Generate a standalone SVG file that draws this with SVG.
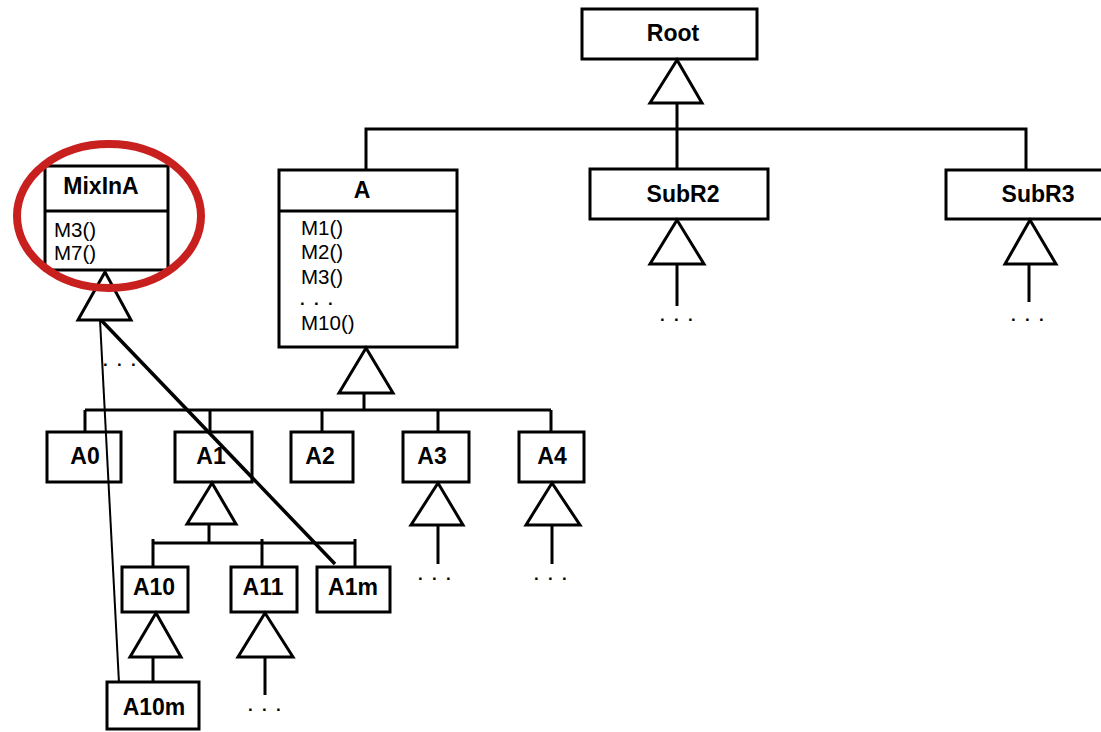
<svg xmlns="http://www.w3.org/2000/svg" width="1101" height="732" viewBox="0 0 1101 732">
<style>
.box{fill:#fff;stroke:#000;stroke-width:3}
.ln{fill:none;stroke:#000;stroke-width:3}
.tri{fill:#fff;stroke:#000;stroke-width:3;stroke-linejoin:miter}
.nm{font-family:"Liberation Sans",Arial,sans-serif;font-weight:bold;font-size:23px;text-anchor:middle;fill:#000}
.mt{font-family:"Liberation Sans",Arial,sans-serif;font-size:20.5px;fill:#000}
.dots{font-family:"Liberation Sans",Arial,sans-serif;font-weight:bold;font-size:17px;letter-spacing:9.3px;fill:#000}
</style>
<rect width="1101" height="732" fill="#fff"/>
<g id="Root"><rect class="box" x="582" y="9" width="175" height="50"/><text class="nm" x="673" y="41">Root</text></g>
<g id="A">
  <rect class="box" x="279" y="170" width="178" height="177"/>
  <line class="ln" x1="279" y1="211" x2="457" y2="211"/>
  <text class="nm" x="362" y="198">A</text>
  <text class="mt" x="301" y="235">M1()</text>
  <text class="mt" x="301" y="259">M2()</text>
  <text class="mt" x="301" y="284">M3()</text>
  <text class="dots" x="300" y="305">...</text>
  <text class="mt" x="301" y="330">M10()</text>
</g>
<g id="SubR2"><rect class="box" x="590" y="169" width="178" height="50"/><text class="nm" x="683" y="202">SubR2</text></g>
<g id="SubR3"><rect class="box" x="946" y="170" width="165" height="49"/><text class="nm" x="1038" y="202">SubR3</text></g>
<g id="MixInA">
  <rect class="box" x="45" y="166" width="123" height="104"/>
  <line class="ln" x1="45" y1="211" x2="168" y2="211"/>
  <text class="nm" x="101" y="194">MixInA</text>
  <text class="mt" x="54" y="237">M3()</text>
  <text class="mt" x="54" y="260">M7()</text>
</g>
<g id="A0"><rect class="box" x="47" y="432" width="74" height="50"/><text class="nm" x="85" y="464">A0</text></g>
<g id="A1"><rect class="box" x="175" y="432" width="77" height="50"/><text class="nm" x="211" y="464">A1</text></g>
<g id="A2"><rect class="box" x="291" y="432" width="62" height="50"/><text class="nm" x="320" y="464">A2</text></g>
<g id="A3"><rect class="box" x="403" y="432" width="66" height="50"/><text class="nm" x="432" y="464">A3</text></g>
<g id="A4"><rect class="box" x="519" y="432" width="65" height="50"/><text class="nm" x="552" y="464">A4</text></g>
<g id="A10"><rect class="box" x="122" y="567" width="66" height="45"/><text class="nm" x="154" y="595">A10</text></g>
<g id="A11"><rect class="box" x="231" y="567" width="66" height="45"/><text class="nm" x="263" y="595">A11</text></g>
<g id="A1m"><rect class="box" x="317" y="567" width="73" height="45"/><text class="nm" x="353" y="595">A1m</text></g>
<g id="A10m"><rect class="box" x="107" y="682" width="92" height="47"/><text class="nm" x="154" y="715">A10m</text></g>
<g id="connectors">
  <line class="ln" x1="677" y1="103" x2="677" y2="170"/>
  <polyline class="ln" points="366,170 366,129 1026,129 1026,170"/>
  <polygon class="tri" points="677,60 650,103 702,103"/>
  <line class="ln" x1="677" y1="264" x2="677" y2="306"/>
  <polygon class="tri" points="677,220 650,264 704,264"/>
  <line class="ln" x1="1029" y1="264" x2="1029" y2="302"/>
  <polygon class="tri" points="1030,220 1005,264 1056,264"/>
  <line class="ln" x1="100" y1="320" x2="119" y2="683" style="stroke-width:2"/>
  <line class="ln" x1="101" y1="320" x2="335" y2="564" style="stroke-width:3.5"/>
  <polygon class="tri" points="105,272 78,320 131,320"/>
  <line class="ln" x1="364" y1="393" x2="364" y2="410"/>
  <polygon class="tri" points="366,348 339,393 393,393"/>
  <line class="ln" x1="85" y1="410" x2="551" y2="410"/>
  <line class="ln" x1="85" y1="410" x2="85" y2="432"/>
  <line class="ln" x1="210" y1="410" x2="210" y2="432"/>
  <line class="ln" x1="322" y1="410" x2="322" y2="432"/>
  <line class="ln" x1="438" y1="410" x2="438" y2="432"/>
  <line class="ln" x1="551" y1="410" x2="551" y2="432"/>
  <line class="ln" x1="209" y1="524" x2="209" y2="543"/>
  <polygon class="tri" points="212,483 187,524 236,524"/>
  <line class="ln" x1="153" y1="543" x2="355" y2="543"/>
  <line class="ln" x1="153" y1="539" x2="153" y2="567"/>
  <line class="ln" x1="262" y1="539" x2="262" y2="567"/>
  <line class="ln" x1="355" y1="539" x2="355" y2="567"/>
  <line class="ln" x1="438" y1="525" x2="438" y2="564"/>
  <polygon class="tri" points="438,483 411,525 463,525"/>
  <line class="ln" x1="552" y1="525" x2="552" y2="564"/>
  <polygon class="tri" points="552,483 526,525 580,525"/>
  <line class="ln" x1="153" y1="657" x2="153" y2="682"/>
  <polygon class="tri" points="156,613 130,657 181,657"/>
  <line class="ln" x1="265" y1="657" x2="265" y2="695"/>
  <polygon class="tri" points="265,613 238,657 293,657"/>
  <text class="dots" x="103" y="366">...</text>
  <text class="dots" x="660" y="321">...</text>
  <text class="dots" x="1011" y="321">...</text>
  <text class="dots" x="418" y="580">...</text>
  <text class="dots" x="534" y="580">...</text>
  <text class="dots" x="248" y="711">...</text>
</g>
<g id="highlight"><ellipse cx="109" cy="216" rx="92" ry="72" fill="none" stroke="#c8201e" stroke-width="8"/></g>
</svg>
